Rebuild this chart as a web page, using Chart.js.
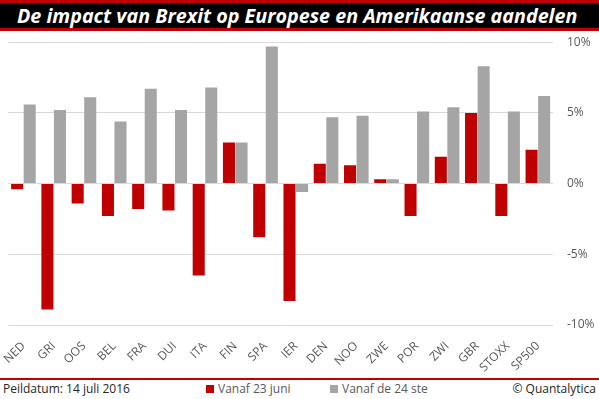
<!DOCTYPE html>
<html>
<head>
<meta charset="utf-8">
<script src="https://cdn.jsdelivr.net/npm/chart.js@4.4.0/dist/chart.umd.min.js"></script>
<style>
    html, body { margin: 0; padding: 0; background: #fff; }
    #wrap { position: relative; width: 599px; height: 399px; overflow: hidden; font-family: "Open Sans", sans-serif; }
    #titlebar { position: absolute; left: 0; top: 0; width: 599px; height: 25px; background: #000; z-index: 2;
        border-top: 3px solid #c00000; border-bottom: 3px solid #c00000; }
    #title { position: absolute; left: 17px; top: 1px; color: #fff; font-weight: bold; font-style: italic;
        font-size: 20px; line-height: 24px; white-space: nowrap; transform-origin: 0 0; }
    #chartbox { position: absolute; left: 0; top: 21px; width: 599px; height: 357px; z-index: 1; }
    #footline { position: absolute; left: 0; top: 378px; width: 599px; height: 2px; background: #c00000; }
    .foot { position: absolute; top: 381px; font-size: 12px; line-height: 16px; color: #262626; white-space: nowrap; }
    #legend span.box { display: inline-block; width: 8px; height: 8px; margin-right: 4px; vertical-align: 0px; }
    #legend .item { position: absolute; top: 0; color: #595959; }
</style>
</head>
<body>
<div id="wrap">
    <div id="titlebar"><div id="title">De impact van Brexit op Europese en Amerikaanse aandelen</div></div>
    <div id="chartbox"><canvas id="chart" width="599" height="357"></canvas></div>
    <div id="footline"></div>
    <div class="foot" style="left:3px">Peildatum: 14 juli 2016</div>
    <div class="foot" id="legend" style="left:0; width:599px"></div>
    <div class="foot" style="right:3px">© Quantalytica</div>
</div>
<script>
const labels = ['NED', 'GRI', 'OOS', 'BEL', 'FRA', 'DUI', 'ITA', 'FIN', 'SPA', 'IER',
    'DEN', 'NOO', 'ZWE', 'POR', 'ZWI', 'GBR', 'STOXX', 'SP500'];
const vanaf23Juni = [-0.4, -8.9, -1.4, -2.3, -1.8, -1.9, -6.5, 2.9, -3.8, -8.3,
    1.4, 1.3, 0.3, -2.3, 1.9, 5.0, -2.3, 2.4];
const vanaf24Ste = [5.6, 5.2, 6.1, 4.4, 6.7, 5.2, 6.8, 2.9, 9.7, -0.6,
    4.7, 4.8, 0.3, 5.1, 5.4, 8.3, 5.1, 6.2];
const yTicks = [-10, -5, 0, 5, 10];

// squeeze the title to the width it has in the original
let title = document.getElementById('title');
title.style.transform = 'scaleX(' + (560 / title.offsetWidth) + ')';

let chart = new Chart(document.getElementById('chart'), {
    type: 'bar',
    data: {
        labels,
        datasets: [
            { label: 'Vanaf 23 juni', data: vanaf23Juni, backgroundColor: '#c00000' },
            { label: 'Vanaf de 24 ste', data: vanaf24Ste, backgroundColor: '#a5a5a5' }
        ]
    },
    options: {
        responsive: false,
        animation: false,
        datasets: { bar: { categoryPercentage: 0.83, barPercentage: 0.96 } },
        layout: { padding: { left: 6, top: 9, right: 0, bottom: 0 } },
        plugins: { legend: { display: false }, tooltip: { enabled: false } },
        scales: {
            x: {
                grid: { display: false },
                border: { display: false },
                ticks: { color: '#595959', font: { family: 'Open Sans', size: 12 }, minRotation: 45, maxRotation: 45, padding: 6 },
                afterFit: (scale) => { scale.height = 53; }
            },
            y: {
                position: 'right',
                min: -10, max: 10,
                afterBuildTicks: (scale) => { scale.ticks = yTicks.map(v => ({ value: v })); },
                grid: { color: '#d9d9d9', drawTicks: false },
                border: { display: false },
                ticks: { color: '#595959', font: { family: 'Open Sans', size: 12 }, padding: 14, crossAlign: 'near',
                    callback: (v) => v + '%' },
                afterFit: (scale) => { scale.width = 46; }
            }
        }
    }
});

// legend in the footer, built from the datasets
let legend = document.getElementById('legend');
const legendLeft = [206, 330];
chart.data.datasets.forEach((ds, i) => {
    let item = document.createElement('div');
    item.className = 'item';
    item.style.left = legendLeft[i] + 'px';
    item.innerHTML = '<span class="box" style="background:' + ds.backgroundColor + '"></span>' + ds.label;
    legend.appendChild(item);
});
</script>
</body>
</html>
